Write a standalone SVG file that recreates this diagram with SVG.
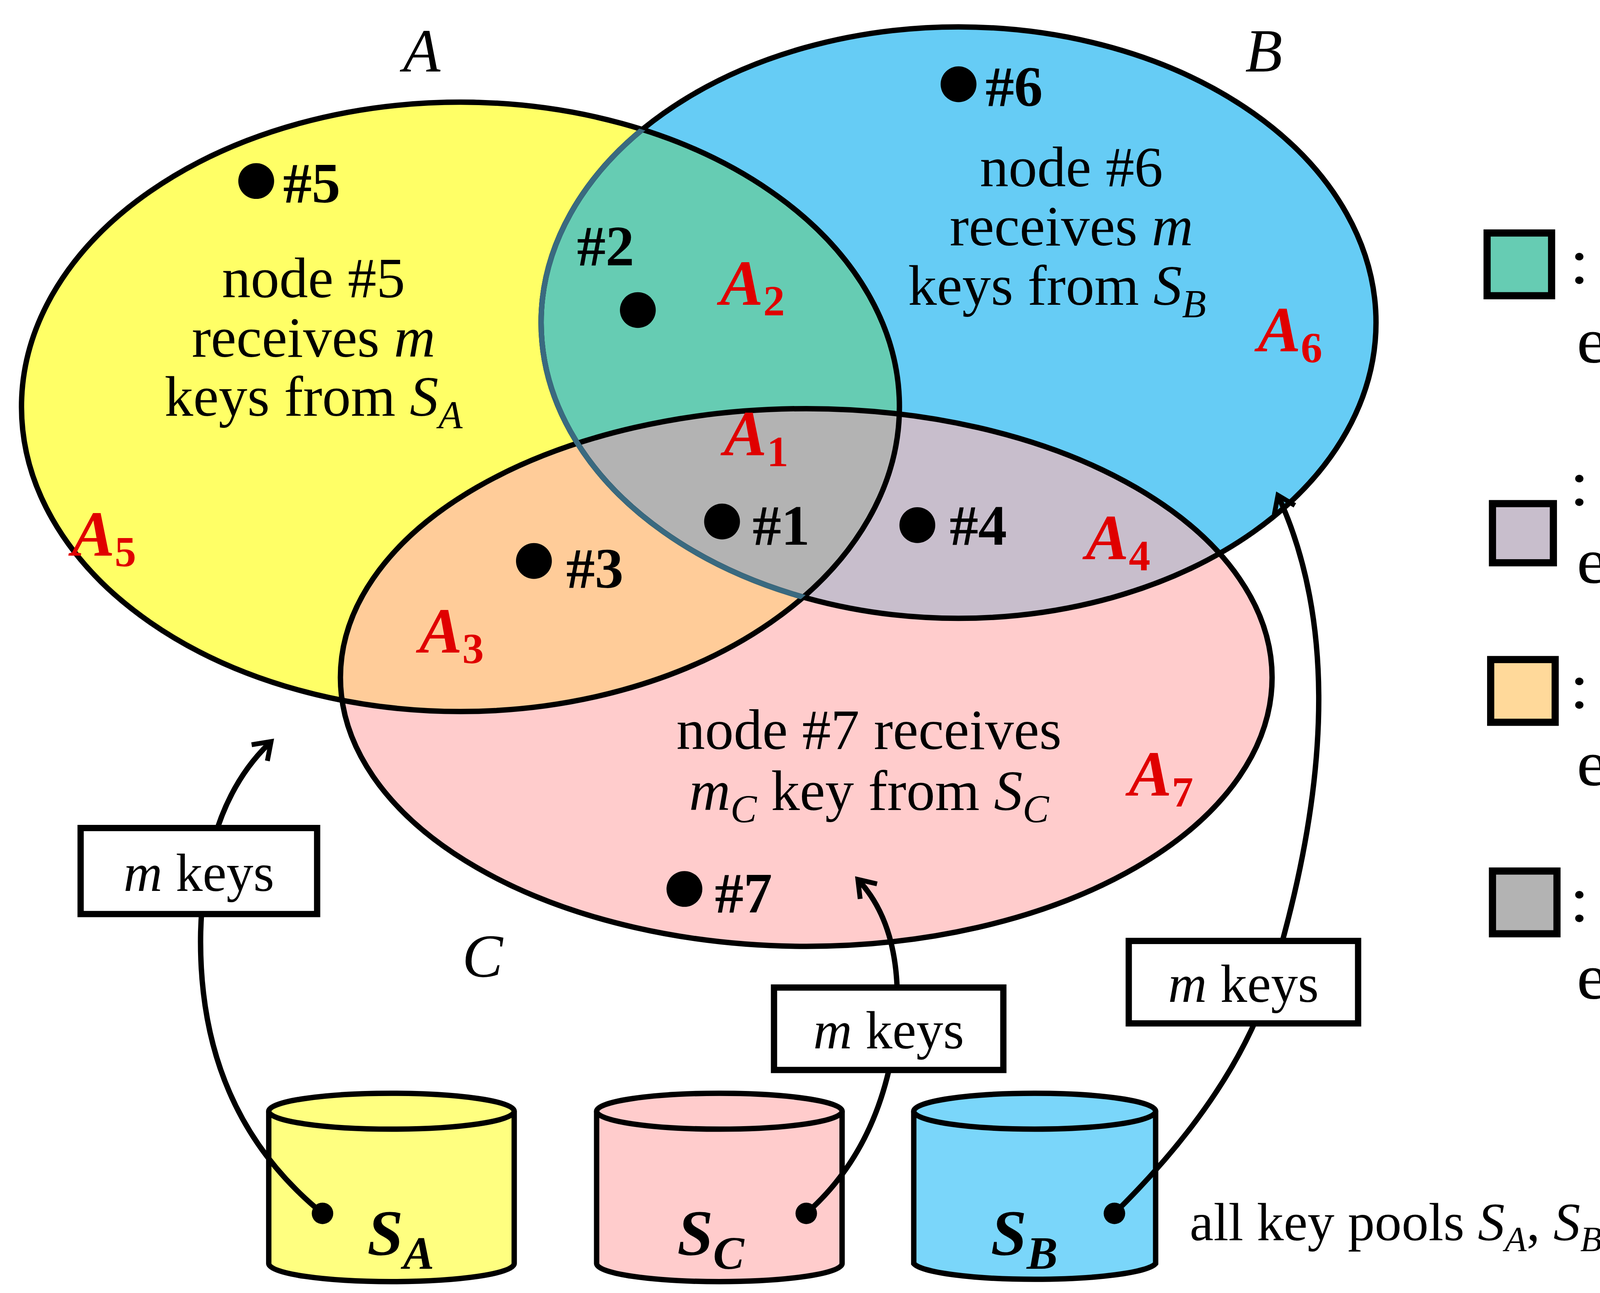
<svg xmlns="http://www.w3.org/2000/svg" width="7192" height="3309" viewBox="0 0 7192 3309">
<style>
.t{font-family:"Liberation Serif",serif;fill:#000}
.i{font-style:italic}
.b{font-weight:bold}
.r{font-family:"Liberation Serif",serif;font-style:italic;font-weight:bold;fill:#E00000;font-size:36px}
.s{font-style:normal;font-size:24px}
.ln{fill:none;stroke:#000;stroke-width:3}
.box{fill:#fff;stroke:#000;stroke-width:3.5}
</style>
<defs>
<clipPath id="cA"><ellipse cx="257" cy="227" rx="245" ry="170"/></clipPath>
<clipPath id="cB"><ellipse cx="535" cy="180" rx="233" ry="165"/></clipPath>
<marker id="ar" viewBox="0 0 20 20" refX="10" refY="10" markerWidth="18" markerHeight="18" markerUnits="userSpaceOnUse" orient="auto"><path d="M2,3 L12,10 L2,17" fill="none" stroke="#000" stroke-width="3"/></marker>
</defs>
<rect width="7192" height="3309" fill="#fff"/>
<g transform="scale(4.5867)">
<g id="venn">
<ellipse cx="257" cy="227" rx="245" ry="170" fill="#FFFF66"/>
<ellipse cx="535" cy="180" rx="233" ry="165" fill="#66CCF5"/>
<ellipse cx="450" cy="378" rx="260" ry="150" fill="#FFCCCC"/>
<ellipse cx="535" cy="180" rx="233" ry="165" fill="#66CCB3" clip-path="url(#cA)"/>
<ellipse cx="450" cy="378" rx="260" ry="150" fill="#FFCC99" clip-path="url(#cA)"/>
<ellipse cx="450" cy="378" rx="260" ry="150" fill="#C8BECC" clip-path="url(#cB)"/>
<g clip-path="url(#cA)"><ellipse cx="450" cy="378" rx="260" ry="150" fill="#B3B3B3" clip-path="url(#cB)"/></g>
<ellipse cx="257" cy="227" rx="245" ry="170" class="ln"/>
<ellipse cx="535" cy="180" rx="233" ry="165" class="ln"/>
<ellipse cx="450" cy="378" rx="260" ry="150" class="ln"/>
<g clip-path="url(#cA)"><ellipse cx="535" cy="180" rx="233" ry="165" fill="none" stroke="#3A6A80" stroke-width="3"/></g>
<text x="225" y="40" class="t i" font-size="34">A</text>
<text x="695" y="40" class="t i" font-size="34">B</text>
<text x="258" y="545" class="t i" font-size="34">C</text>
</g>
<g id="n5"><circle cx="143" cy="101" r="10"/><text x="158" y="113" class="t b" font-size="32">#5</text>
<text class="t" font-size="32" text-anchor="middle"><tspan x="175" y="166">node #5</tspan><tspan x="175" y="199">receives <tspan class="i">m</tspan></tspan><tspan x="175" y="232">keys from <tspan class="i">S</tspan><tspan class="i" font-size="22" dy="7">A</tspan></tspan></text>
<text x="40" y="310" class="r">A<tspan class="s" dy="6">5</tspan></text></g>
<g id="n2"><text x="322" y="148" class="t b" font-size="32">#2</text><circle cx="356" cy="173" r="10"/>
<text x="402" y="170" class="r">A<tspan class="s" dy="6">2</tspan></text></g>
<g id="n6"><circle cx="535" cy="47" r="10"/><text x="550" y="59" class="t b" font-size="32">#6</text>
<text class="t" font-size="32" text-anchor="middle"><tspan x="598" y="104">node #6</tspan><tspan x="598" y="137">receives <tspan class="i">m</tspan></tspan><tspan x="590" y="170">keys from <tspan class="i">S</tspan><tspan class="i" font-size="22" dy="7">B</tspan></tspan></text>
<text x="702" y="196" class="r">A<tspan class="s" dy="6">6</tspan></text></g>
<g id="n1"><text x="404" y="254" class="r">A<tspan class="s" dy="6">1</tspan></text><circle cx="403" cy="291" r="10"/><text x="420" y="304" class="t b" font-size="32">#1</text></g>
<g id="n4"><circle cx="512" cy="293" r="10"/><text x="530" y="304" class="t b" font-size="32">#4</text>
<text x="606" y="312" class="r">A<tspan class="s" dy="6">4</tspan></text></g>
<g id="n3"><circle cx="298" cy="313" r="10"/><text x="316" y="328" class="t b" font-size="32">#3</text>
<text x="234" y="364" class="r">A<tspan class="s" dy="6">3</tspan></text></g>
<g id="n7"><text class="t" font-size="32" text-anchor="middle"><tspan x="485" y="418">node #7 receives</tspan><tspan x="485" y="452"><tspan class="i">m</tspan><tspan class="i" font-size="22" dy="7">C</tspan><tspan dy="-7"> key from </tspan><tspan class="i">S</tspan><tspan class="i" font-size="22" dy="7">C</tspan></tspan></text>
<text x="630" y="444" class="r">A<tspan class="s" dy="6">7</tspan></text>
<circle cx="382" cy="496" r="10"/><text x="399" y="509" class="t b" font-size="32">#7</text></g>
<g id="SA"><path d="M150,620 V705 A68,10 0 0 0 287,705 V620" fill="#FFFF80" stroke="#000" stroke-width="3"/><ellipse cx="218.5" cy="620" rx="68.5" ry="10" fill="#FFFF80" stroke="#000" stroke-width="3"/><circle cx="180" cy="677" r="6"/><text x="205" y="700" class="t i b" font-size="36">S<tspan font-size="26" dy="8">A</tspan></text></g>
<g id="SC"><path d="M333,620 V705 A68,10 0 0 0 470,705 V620" fill="#FFCCCC" stroke="#000" stroke-width="3"/><ellipse cx="401.5" cy="620" rx="68.5" ry="10" fill="#FFCCCC" stroke="#000" stroke-width="3"/><circle cx="450" cy="677" r="6"/><text x="378" y="700" class="t i b" font-size="36">S<tspan font-size="26" dy="8">C</tspan></text></g>
<g id="SB"><path d="M510,620 V705 A68,10 0 0 0 645,705 V620" fill="#7AD6FA" stroke="#000" stroke-width="3"/><ellipse cx="577.5" cy="620" rx="67.5" ry="10" fill="#7AD6FA" stroke="#000" stroke-width="3"/><circle cx="622" cy="677" r="6"/><text x="553" y="700" class="t i b" font-size="36">S<tspan font-size="26" dy="8">B</tspan></text></g>
<g id="connectors">
<path d="M180,677 Q110,620 112,520 Q114,450 150,415" class="ln" marker-end="url(#ar)"/>
<path d="M450,677 Q492,640 500,575 Q505,520 480,492" class="ln" marker-end="url(#ar)"/>
<path d="M622,677 Q690,610 710,545 Q760,380 714,278" class="ln" marker-end="url(#ar)"/>
</g>
<g id="lbl1"><rect x="45" y="462" width="132" height="48" class="box"/><text x="111" y="497" class="t" font-size="30" text-anchor="middle"><tspan class="i">m</tspan> keys</text></g>
<g id="lbl2"><rect x="432" y="551" width="128" height="46" class="box"/><text x="496" y="585" class="t" font-size="30" text-anchor="middle"><tspan class="i">m</tspan> keys</text></g>
<g id="lbl3"><rect x="630" y="525" width="128" height="46" class="box"/><text x="694" y="559" class="t" font-size="30" text-anchor="middle"><tspan class="i">m</tspan> keys</text></g>
<text x="664" y="692" class="t" font-size="30">all key pools <tspan class="i">S</tspan><tspan class="i" font-size="20" dy="6">A</tspan><tspan dy="-6">, </tspan><tspan class="i">S</tspan><tspan class="i" font-size="20" dy="6">B</tspan><tspan dy="-6"> and </tspan><tspan class="i">S</tspan><tspan class="i" font-size="20" dy="6">C</tspan><tspan dy="-6"> with |</tspan><tspan class="i">S</tspan>| size</text>
<g id="leg2"><rect x="830" y="130" width="36" height="35" fill="#66CCB3" stroke="#000" stroke-width="4"/>
<text x="876" y="158" class="t" font-size="36" textLength="658" lengthAdjust="spacingAndGlyphs">: node #2 in <tspan class="i">A</tspan><tspan font-size="24" dy="7">2</tspan><tspan dy="-7"> area receives </tspan><tspan class="i">m</tspan> keys from</text>
<text x="880" y="202" class="t" font-size="36" textLength="640" lengthAdjust="spacingAndGlyphs">each key pool <tspan class="i">S</tspan><tspan class="i" font-size="24" dy="7">x</tspan><tspan dy="-7">, </tspan><tspan class="i">x</tspan>∈{<tspan class="i">A</tspan>, <tspan class="i">B</tspan>}, respectively</text></g>
<g id="leg4"><rect x="833" y="281" width="34" height="33" fill="#C8BECC" stroke="#000" stroke-width="4"/>
<text x="876" y="282" class="t" font-size="36" textLength="658" lengthAdjust="spacingAndGlyphs">: node #4 in <tspan class="i">A</tspan><tspan font-size="24" dy="7">4</tspan><tspan dy="-7"> area receives </tspan><tspan class="i">m</tspan> keys from</text>
<text x="880" y="325" class="t" font-size="36" textLength="642" lengthAdjust="spacingAndGlyphs">each key pool <tspan class="i">S</tspan><tspan class="i" font-size="24" dy="7">x</tspan><tspan dy="-7">, </tspan><tspan class="i">x</tspan>∈{<tspan class="i">B</tspan>, <tspan class="i">C</tspan>}, respectively</text></g>
<g id="leg3"><rect x="832" y="368" width="36" height="35" fill="#FFD99A" stroke="#000" stroke-width="4"/>
<text x="876" y="395" class="t" font-size="36" textLength="658" lengthAdjust="spacingAndGlyphs">: node #3 in <tspan class="i">A</tspan><tspan font-size="24" dy="7">3</tspan><tspan dy="-7"> area receives </tspan><tspan class="i">m</tspan> keys from</text>
<text x="880" y="438" class="t" font-size="36" textLength="640" lengthAdjust="spacingAndGlyphs">each key pool <tspan class="i">S</tspan><tspan class="i" font-size="24" dy="7">x</tspan><tspan dy="-7">, </tspan><tspan class="i">x</tspan>∈{<tspan class="i">A</tspan>, <tspan class="i">C</tspan>}, respectively</text></g>
<g id="leg1"><rect x="833" y="486" width="36" height="35" fill="#B3B3B3" stroke="#000" stroke-width="4"/>
<text x="876" y="514" class="t" font-size="36" textLength="660" lengthAdjust="spacingAndGlyphs">: node #1 in <tspan class="i">A</tspan><tspan font-size="24" dy="7">1</tspan><tspan dy="-7"> area receives </tspan><tspan class="i">m</tspan> keys from</text>
<text x="880" y="557" class="t" font-size="36" textLength="682" lengthAdjust="spacingAndGlyphs">each key pool <tspan class="i">S</tspan><tspan class="i" font-size="24" dy="7">x</tspan><tspan dy="-7">, </tspan><tspan class="i">x</tspan>∈{<tspan class="i">A</tspan>, <tspan class="i">B</tspan>, <tspan class="i">C</tspan>}, respectively</text></g>
</g>
</svg>
